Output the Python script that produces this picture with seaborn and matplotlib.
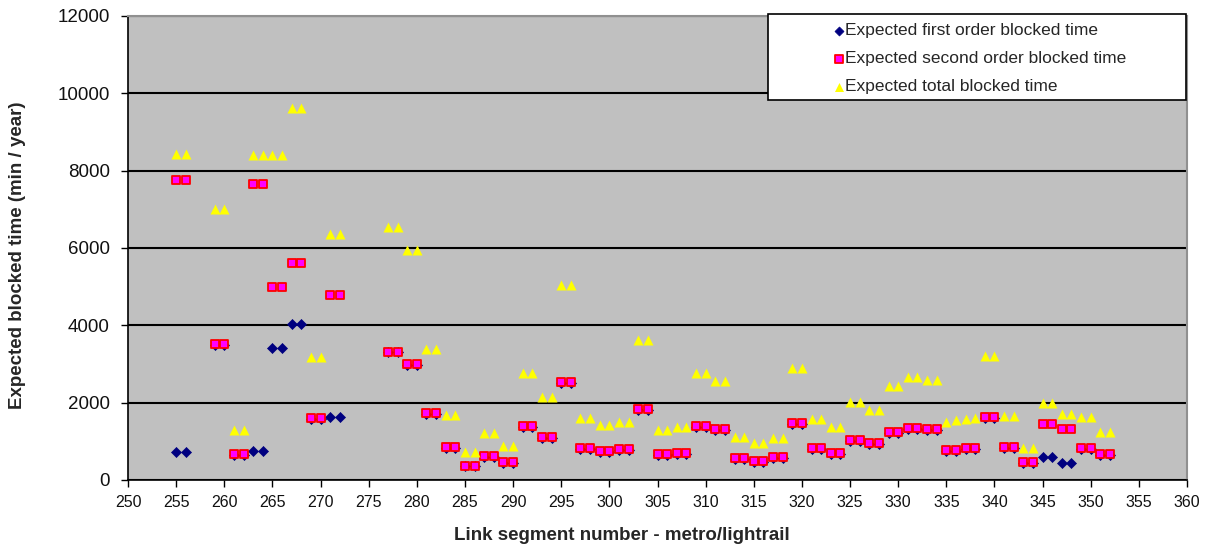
import pandas as pd
import seaborn as sns
import matplotlib.pyplot as plt
from matplotlib.patches import Rectangle

# link segments (metro / lightrail)
segments = [
    255, 256,
    259, 260, 261, 262, 263, 264, 265, 266, 267, 268, 269, 270, 271, 272,
    277, 278, 279, 280, 281, 282, 283, 284, 285, 286, 287, 288, 289, 290,
    291, 292, 293, 294, 295, 296, 297, 298, 299, 300, 301, 302, 303, 304,
    305, 306, 307, 308, 309, 310, 311, 312, 313, 314, 315, 316, 317, 318,
    319, 320, 321, 322, 323, 324, 325, 326, 327, 328, 329, 330, 331, 332,
    333, 334, 335, 336, 337, 338, 339, 340, 341, 342, 343, 344, 345, 346,
    347, 348, 349, 350, 351, 352,
]

first_order = [
    720, 720,
    3500, 3500, 650, 650, 750, 750, 3410, 3410, 4030, 4030, 1580, 1580, 1620, 1620,
    3300, 3300, 2970, 2970, 1710, 1710, 840, 840, 350, 350, 600, 600, 440, 440,
    1380, 1380, 1090, 1090, 2510, 2510, 810, 810, 730, 730, 780, 780, 1820, 1820,
    650, 650, 680, 680, 1380, 1380, 1300, 1300, 550, 550, 470, 470, 570, 570,
    1450, 1450, 810, 810, 680, 680, 1010, 1010, 930, 930, 1220, 1220, 1330, 1330,
    1300, 1300, 760, 760, 810, 810, 1610, 1610, 830, 830, 440, 440, 600, 600,
    440, 440, 810, 810, 650, 650,
]

second_order = [
    7760, 7760,
    3520, 3520, 670, 670, 7650, 7650, 4990, 4990, 5610, 5610, 1600, 1600, 4780, 4780,
    3320, 3320, 2990, 2990, 1730, 1730, 860, 860, 370, 370, 620, 620, 460, 460,
    1400, 1400, 1110, 1110, 2530, 2530, 830, 830, 750, 750, 800, 800, 1840, 1840,
    670, 670, 700, 700, 1400, 1400, 1320, 1320, 570, 570, 490, 490, 590, 590,
    1470, 1470, 830, 830, 700, 700, 1030, 1030, 950, 950, 1240, 1240, 1350, 1350,
    1320, 1320, 780, 780, 830, 830, 1630, 1630, 850, 850, 460, 460, 1450, 1450,
    1320, 1320, 830, 830, 670, 670,
]

total_time = [
    8430, 8430,
    7000, 7000, 1290, 1290, 8400, 8400, 8400, 8400, 9620, 9620, 3180, 3180, 6350, 6350,
    6550, 6550, 5940, 5940, 3380, 3380, 1680, 1680, 720, 720, 1210, 1210, 870, 870,
    2770, 2770, 2150, 2150, 5050, 5050, 1610, 1610, 1420, 1420, 1500, 1500, 3620, 3620,
    1300, 1300, 1370, 1370, 2770, 2770, 2560, 2560, 1120, 1120, 960, 960, 1090, 1090,
    2890, 2890, 1570, 1570, 1370, 1370, 2020, 2020, 1810, 1810, 2430, 2430, 2670, 2670,
    2590, 2590, 1510, 1540, 1580, 1600, 3200, 3200, 1650, 1650, 830, 830, 2000, 2000,
    1700, 1700, 1620, 1620, 1250, 1250,
]

df = pd.DataFrame({
    "segment": segments,
    "first": first_order,
    "second": second_order,
    "total": total_time,
})

sns.set_theme(style="white")
plt.rcParams["font.family"] = ["Liberation Sans", "DejaVu Sans"]

fig = plt.figure(figsize=(12.08, 5.47), dpi=100)
ax = fig.add_axes([128 / 1208, 1 - 480 / 547, 1059 / 1208, 464 / 547])
ax.set_facecolor("#c0c0c0")

sns.scatterplot(data=df, x="segment", y="first", marker="D", s=26,
                color="#000080", edgecolor="#000080", linewidth=0.5,
                label="Expected first order blocked time", ax=ax, zorder=3)
sns.scatterplot(data=df, x="segment", y="second", marker="s", s=38,
                color="#ff00ff", edgecolor="#ff0000", linewidth=1.3,
                label="Expected second order blocked time", ax=ax, zorder=4)
sns.scatterplot(data=df, x="segment", y="total", marker="^", s=52,
                color="#ffff00", edgecolor="#ffff00", linewidth=0,
                label="Expected total blocked time", ax=ax, zorder=5)

ax.set_xlim(250, 360)
ax.set_ylim(0, 12000)
ax.set_xticks(range(250, 361, 5))
ax.set_yticks(range(0, 12001, 2000))

ax.set_axisbelow(True)
ax.yaxis.grid(True, color="black", linewidth=1.5)
ax.xaxis.grid(False)

for side in ["left", "bottom"]:
    ax.spines[side].set_color("black")
    ax.spines[side].set_linewidth(1.2)
for side in ["top", "right"]:
    ax.spines[side].set_color("#909090")
    ax.spines[side].set_linewidth(1.5)

ax.tick_params(axis="both", direction="out", length=5, width=1,
               color="black", labelcolor="#111111", bottom=True, left=True)
ax.tick_params(axis="y", pad=8, labelsize=13.5)
ax.tick_params(axis="x", pad=6, labelsize=11.5)

ax.set_xlabel("Link segment number - metro/lightrail", fontsize=13.5,
              fontweight="bold")
ax.set_ylabel("Expected blocked time (min / year)", fontsize=13.5,
              fontweight="bold")
ax.xaxis.set_label_coords(494 / 1059, -55 / 464)
ax.yaxis.set_label_coords(-110 / 1059, 225 / 464)
ax.xaxis.label.set_va("center")
ax.yaxis.label.set_va("center")

# legend box (white, black border) with the entries centred inside
box = Rectangle((640 / 1059, 380 / 464), 418 / 1059, 86 / 464,
                transform=ax.transAxes, facecolor="white", edgecolor="black",
                linewidth=1.2, clip_on=False, zorder=6)
ax.add_patch(box)
leg = ax.legend(loc="upper left", bbox_to_anchor=(698 / 1059, 1.0),
                borderaxespad=0, frameon=False, fontsize=12.5,
                labelspacing=0.74, handletextpad=0.1, handlelength=0.6,
                borderpad=0.42, markerscale=0.9)
leg.set_zorder(7)

fig.savefig("out.png", dpi=100)
